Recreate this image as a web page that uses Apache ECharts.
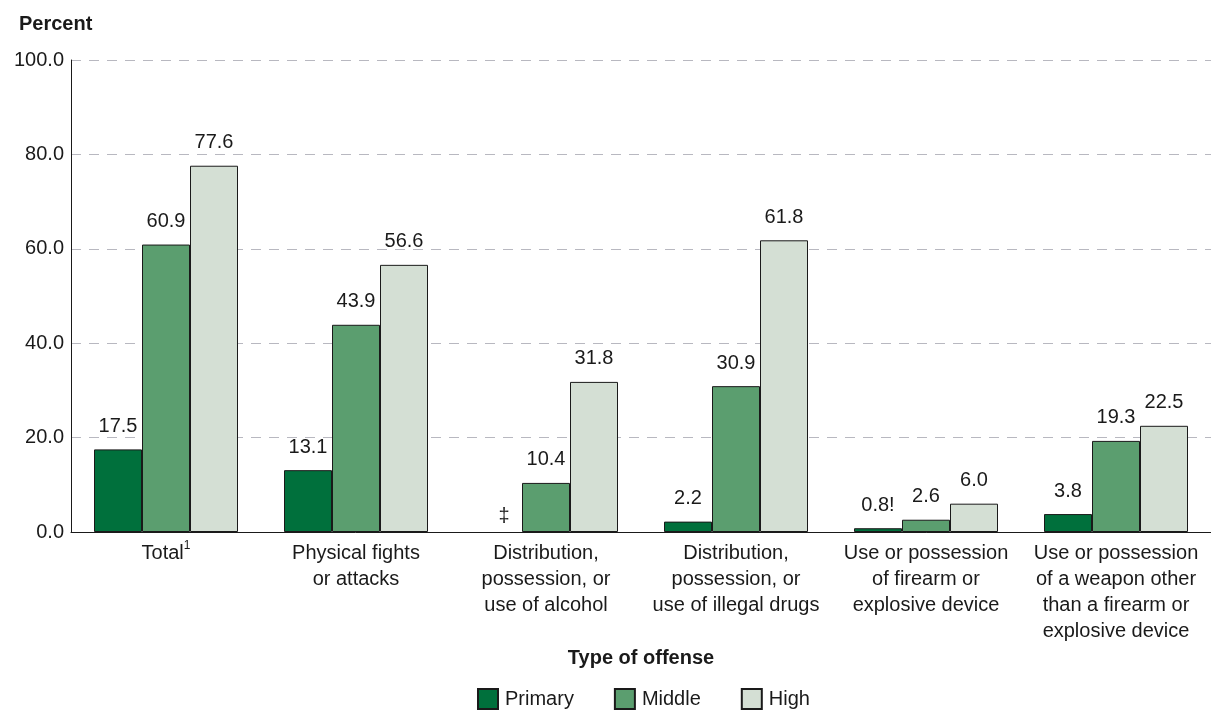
<!DOCTYPE html>
<html>
<head>
<meta charset="utf-8">
<script src="https://cdn.jsdelivr.net/npm/echarts@6/dist/echarts.min.js"></script>
<style>
  html, body { margin: 0; padding: 0; background: #fff; }
  #chart { width: 1211px; height: 711px; }
</style>
</head>
<body>
<div id="chart"></div>
<script>
// categories (x axis)
const offenses = [
  "Total{sup|1}",
  "Physical fights\nor attacks",
  "Distribution,\npossession, or\nuse of alcohol",
  "Distribution,\npossession, or\nuse of illegal drugs",
  "Use or possession\nof firearm or\nexplosive device",
  "Use or possession\nof a weapon other\nthan a firearm or\nexplosive device"
];
// null = reporting standards not met (shown as ‡)
const primary = [17.5, 13.1, null, 2.2, 0.8, 3.8];
const middle = [60.9, 43.9, 10.4, 30.9, 2.6, 19.3];
const high = [77.6, 56.6, 31.8, 61.8, 6.0, 22.5];
// "!" = interpret with caution
const primaryFlags = ["", "", "", "", "!", ""];
const yTicks = [0, 20, 40, 60, 80, 100];

const font = "Liberation Sans, Arial, sans-serif";
const edge = "#1a1a1a";
const fs = 20;

function bars(name, values, color, flags) {
  return {
    name: name,
    type: "bar",
    barWidth: 48,
    barGap: "0%",
    itemStyle: { color: color, borderColor: edge, borderWidth: 1 },
    label: {
      show: true,
      position: "top",
      distance: 13,
      fontFamily: font,
      fontSize: fs,
      color: "#1a1a1a"
    },
    data: values.map(function (v, i) {
      if (v === null) {
        return {
          value: 0,
          itemStyle: { borderWidth: 0 },
          label: { formatter: "‡", distance: 6, offset: [6, 0] }
        };
      }
      return {
        value: v,
        label: { formatter: v.toFixed(1) + (flags ? flags[i] : "") }
      };
    })
  };
}

const chart = echarts.init(document.getElementById("chart"));
chart.setOption({
  animation: false,
  title: {
    text: "Percent",
    left: 14,
    top: 9,
    textStyle: { fontFamily: font, fontSize: fs, fontWeight: "bold", color: "#1a1a1a" }
  },
  legend: {
    top: 683,
    left: 472,
    itemWidth: 20,
    itemHeight: 20,
    itemGap: 40,
    icon: "rect",
    textStyle: { fontFamily: font, fontSize: fs, color: "#1a1a1a", padding: [0, 0, 0, 2] },
    data: ["Primary", "Middle", "High"]
  },
  grid: { left: 71, right: 0, top: 60, bottom: 179 },
  xAxis: {
    type: "category",
    data: offenses,
    name: "Type of offense",
    nameLocation: "middle",
    nameGap: 111,
    nameTextStyle: { fontFamily: font, fontSize: fs, fontWeight: "bold", color: "#1a1a1a" },
    axisLine: { lineStyle: { color: edge, width: 1 } },
    axisTick: { show: false },
    axisLabel: {
      interval: 0,
      margin: 8,
      fontFamily: font,
      fontSize: fs,
      lineHeight: 26,
      color: "#1a1a1a",
      rich: { sup: { fontSize: 12, verticalAlign: "top", padding: [0, 0, 8, 0], fontFamily: font, color: "#1a1a1a" } }
    }
  },
  yAxis: {
    type: "value",
    min: yTicks[0],
    max: yTicks[yTicks.length - 1],
    interval: 20,
    axisLine: { show: true, lineStyle: { color: edge, width: 1 } },
    axisTick: { show: false },
    axisLabel: {
      fontFamily: font,
      fontSize: fs,
      color: "#1a1a1a",
      margin: 7,
      formatter: function (v) { return v.toFixed(1); }
    },
    splitLine: { lineStyle: { color: "#b8b8c0", type: [10, 8], width: 1 } }
  },
  series: [
    bars("Primary", primary, "#00703c", primaryFlags),
    bars("Middle", middle, "#5b9e6f"),
    bars("High", high, "#d4dfd4")
  ]
});
</script>
</body>
</html>
